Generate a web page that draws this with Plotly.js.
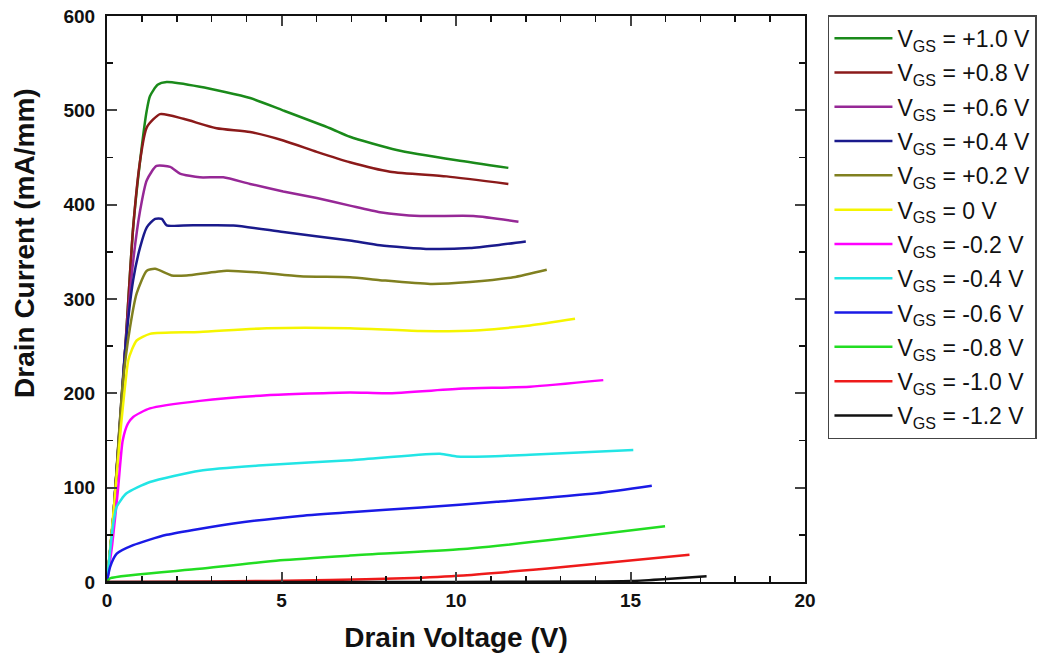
<!DOCTYPE html>
<html>
<head>
<meta charset="utf-8">
<script src="https://cdn.plot.ly/plotly-3.0.1.min.js"></script>
<style>html,body{margin:0;padding:0;background:#fff;}#chart{width:1045px;height:660px;}</style>
</head>
<body>
<div id="chart"></div>
<script>
// Legend labels
const seriesNames = ["V<sub>GS</sub> = +1.0 V","V<sub>GS</sub> = +0.8 V","V<sub>GS</sub> = +0.6 V","V<sub>GS</sub> = +0.4 V","V<sub>GS</sub> = +0.2 V","V<sub>GS</sub> = 0 V","V<sub>GS</sub> = -0.2 V","V<sub>GS</sub> = -0.4 V","V<sub>GS</sub> = -0.6 V","V<sub>GS</sub> = -0.8 V","V<sub>GS</sub> = -1.0 V","V<sub>GS</sub> = -1.2 V"];
const seriesColors = ["#1a8a1a","#8b1a1a","#962896","#1a1a8c","#808020","#f5f500","#ff00ff","#22e5e5","#1a1ae6","#22dd22","#ee1a1a","#111111"];

// Drain voltage (V) / drain current (mA/mm) per series
const x_p10 = [0,0.18,0.52,0.75,0.95,1.14,1.23,1.45,1.71,2.66,4.10,5.04,6.39,6.96,8.30,10.02,11.50];
const y_p10 = [0,69,246,376,447,500,515,527,530,525,513,500,481,472,458,447,439];
const x_p08 = [0,0.18,0.52,0.75,0.95,1.14,1.52,2.19,3.14,4.10,5.05,6.01,6.96,8.11,9.73,11.50];
const y_p08 = [0,69,246,376,447,482,496,491,481,477,468,456,445,435,430,422];
const x_p06 = [0,0.18,0.52,0.75,0.95,1.14,1.42,1.81,2.09,2.66,3.33,4.10,5.05,6.01,6.96,7.82,8.97,10.50,11.79];
const y_p06 = [0,69,246,340,394,426,441,440,433,429,429,422,414,407,399,392,388,388,382];
const x_p04 = [0,0.18,0.52,0.75,0.95,1.14,1.38,1.57,1.71,2.19,3.62,5.05,6.96,7.82,9.26,10.40,11.17,12.00];
const y_p04 = [0,69,246,320,355,376,385,385,378,378,378,371,362,357,353,354,357,361];
const x_p02 = [0,0.18,0.45,0.66,0.85,1.14,1.38,1.85,2.28,3.43,4.38,5.53,6.96,7.82,9.26,10.40,11.64,12.60];
const y_p02 = [0,69,210,270,306,330,332,325,325,330,328,324,323,320,316,318,323,331];
const x_z00 = [0,0.2,0.4,0.61,0.71,0.85,1.23,2.66,4.58,6.96,8.97,10.69,12.12,13.41];
const y_z00 = [0,80,165,235,246,256,263,265,269,269,266,267,272,279];
const x_m02 = [0,0.15,0.32,0.45,0.6,0.75,1.23,2.66,4.58,6.96,8.01,10.21,12.12,14.22];
const y_m02 = [0,40,100,150,168,175,184,192,198,201,200,205,207,214];
const x_m04 = [0,0.08,0.18,0.28,0.56,1.23,2.66,4.58,6.96,9.54,10.02,10.88,12.12,15.08];
const y_m04 = [0,30,62,80,94,106,118,124,129,136,133,133,135,140];
const x_m06 = [0,0.09,0.28,0.75,1.71,3.62,5.53,6.96,9.0,11.17,14.03,15.61];
const y_m06 = [0,16,30,39,50,62,70,74,79,85,94,102];
const x_m08 = [0,0.09,2.66,4.96,6.96,10.21,13.07,15.99];
const y_m08 = [0,4,14,23,28,35,46,59];
const x_m10 = [0,3.0,6.39,8.5,10.21,13.07,16.69];
const y_m10 = [0,0.5,2,4,7,16,29];
const x_m12 = [0,10.0,14.0,15.0,15.94,17.18];
const y_m12 = [0,0,0.5,1,3,6];

const xs = [x_p10,x_p08,x_p06,x_p04,x_p02,x_z00,x_m02,x_m04,x_m06,x_m08,x_m10,x_m12];
const ys = [y_p10,y_p08,y_p06,y_p04,y_p02,y_z00,y_m02,y_m04,y_m06,y_m08,y_m10,y_m12];

const xTickVals = [0,5,10,15,20];
const yTickVals = [0,100,200,300,400,500,600];
const xTitle = 'Drain Voltage (V)';
const yTitle = 'Drain Current (mA/mm)';

const traces = xs.map((x,i)=>({
  type:'scatter', mode:'lines', x:x, y:ys[i], name:seriesNames[i],
  legendgroup:'g'+i,
  line:{color:seriesColors[i], width:2.5, shape:'spline', smoothing:0.6},
  cliponaxis:false
}));

const FONT = 'Arial, "Liberation Sans", Helvetica, sans-serif';
const layout = {
  width:1045, height:660,
  margin:{l:107, r:240, t:16, b:78, autoexpand:false},
  paper_bgcolor:'#fff', plot_bgcolor:'#fff',
  showlegend:true,
  legend:{
    xref:'container', yref:'container',
    x:0.7923, y:0.977, xanchor:'left', yanchor:'top',
    bordercolor:'#444', borderwidth:1.5,
    font:{family:FONT, size:23, color:'#111'},
    itemwidth:58, maxheight:620,
    tracegroupgap:1.4
  },
  xaxis:{
    range:[0,20], tickvals:xTickVals, ticks:'inside', ticklen:10, tickwidth:2,
    showline:true, linecolor:'#111', linewidth:2, mirror:'ticks',
    showgrid:false, zeroline:false,
    minor:{dtick:1, ticks:'inside', ticklen:6, tickwidth:1.5, tickcolor:'#111', showgrid:false},
    tickfont:{family:FONT, size:19, weight:'bold', color:'#111'},
    title:{text:xTitle, font:{family:FONT, size:28, weight:'bold', color:'#111'}, standoff:18}
  },
  yaxis:{
    range:[0,600], tickvals:yTickVals, ticks:'inside', ticklen:10, tickwidth:2,
    showline:true, linecolor:'#111', linewidth:2, mirror:'ticks',
    showgrid:false, zeroline:false,
    minor:{dtick:50, ticks:'inside', ticklen:6, tickwidth:1.5, tickcolor:'#111', showgrid:false},
    tickfont:{family:FONT, size:19, weight:'bold', color:'#111'},
    ticklabelstandoff:6
  },
  annotations:[{
    text:yTitle, textangle:-90, showarrow:false,
    xref:'paper', yref:'paper', x:-0.1175, y:0.599, xanchor:'center', yanchor:'middle',
    font:{family:FONT, size:28, weight:'bold', color:'#111'}
  }]
};

Plotly.newPlot('chart', traces, layout, {displayModeBar:false, staticPlot:true});
</script>
</body>
</html>
